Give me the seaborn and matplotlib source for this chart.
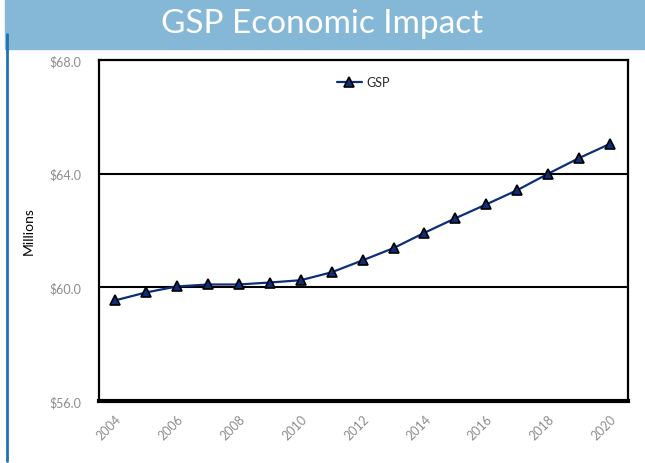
import seaborn as sns
import matplotlib.pyplot as plt
import pandas as pd
from matplotlib.patches import Rectangle
from matplotlib.lines import Line2D

years = list(range(2004, 2021))
gsp = [59.54, 59.82, 60.03, 60.10, 60.10, 60.17, 60.25, 60.53, 60.95,
       61.38, 61.92, 62.43, 62.92, 63.42, 64.00, 64.55, 65.05]
y_ticks = [56.0, 60.0, 64.0, 68.0]
x_labels = [2004, 2006, 2008, 2010, 2012, 2014, 2016, 2018, 2020]

df = pd.DataFrame({"Year": years, "GSP": gsp})

sns.set_theme(style="white")
plt.rcParams['font.family'] = ['Lato', 'DejaVu Sans']

fig = plt.figure(figsize=(6.45, 4.64), dpi=100)
ax = fig.add_axes([99 / 645, 1 - 402 / 464, (628 - 99) / 645, (402 - 61) / 464])

# title banner and left rule
fig.patches.append(Rectangle((5 / 645, 1 - 50 / 464), 640 / 645, 50 / 464,
                             transform=fig.transFigure, color="#85b8d7", zorder=0))
fig.lines.append(Line2D([6.5 / 645, 6.5 / 645], [1 - 35 / 464, 1 - 462 / 464],
                        transform=fig.transFigure, color="#1f72b4", lw=2))
fig.text(0.5, 1 - 24 / 464, "GSP Economic Impact", color="white", fontsize=24,
         fontweight="normal", ha="center", va="center")

sns.lineplot(data=df, x="Year", y="GSP", ax=ax, color="#0d2f7a", lw=1.6,
             marker="^", markersize=7, markerfacecolor="#0d2f7a",
             markeredgecolor="black", markeredgewidth=1.2, label="GSP")

ax.set_xlim(2003.48, 2020.58)
ax.set_ylim(56, 68)
ax.set_yticks(y_ticks)
ax.set_yticklabels([f"${v:.1f}" for v in y_ticks], color="#8c8c8c", fontsize=9)
ax.set_xticks(years)
ax.set_xticklabels([str(y) if y in x_labels else "" for y in years],
                   rotation=45, color="#8c8c8c", fontsize=9)
ax.tick_params(axis="x", direction="inout", length=8, width=1.5, color="black", pad=4)
ax.tick_params(axis="y", length=0, pad=13)
for t in ax.get_xticklabels():
    t.set_rotation_mode("anchor")
    t.set_ha("right")

for v in [60, 64]:
    ax.axhline(v, color="black", lw=1.5, zorder=1)

for s in ["top", "right", "left"]:
    ax.spines[s].set_color("black")
    ax.spines[s].set_linewidth(1.6)
ax.spines["bottom"].set_color("black")
ax.spines["bottom"].set_linewidth(3)

ax.set_xlabel("")
ax.set_ylabel("Millions", color="black", fontsize=10, labelpad=10)

ax.legend(loc="upper center", bbox_to_anchor=(0.5, 0.985), frameon=False,
          fontsize=9, handlelength=2, handletextpad=0.4)

fig.savefig("out.png", dpi=100)
